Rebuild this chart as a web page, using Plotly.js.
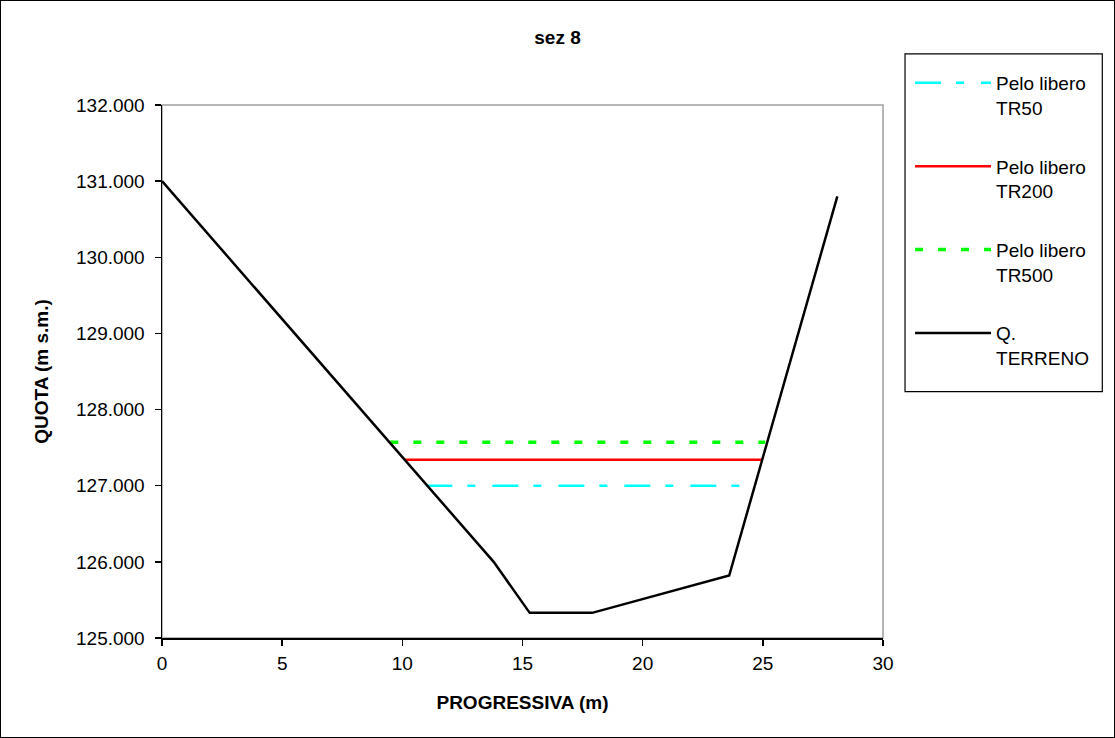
<!DOCTYPE html>
<html>
<head>
<meta charset="utf-8">
<script src="https://cdn.plot.ly/plotly-3.0.1.min.js"></script>
<style>
  html, body { margin: 0; padding: 0; background: #fff; }
  #chart { width: 1113px; height: 736px; border: 1px solid #000; }
</style>
</head>
<body>
<div id="chart"></div>
<script>
// Terrain profile (Q. TERRENO)
const terrenoX = [0, 13.8, 15.3, 17.9, 23.6, 28.1];
const terrenoY = [131.0, 126.0, 125.33, 125.33, 125.82, 130.8];

// Water levels
const tr50X = [11.0, 24.6];
const tr50Y = [127.0, 127.0];
const tr200X = [10.1, 25.0];
const tr200Y = [127.34, 127.34];
const tr500X = [9.5, 25.1];
const tr500Y = [127.57, 127.57];

const names = ["Pelo libero<br>TR50", "Pelo libero<br>TR200", "Pelo libero<br>TR500", "Q.<br>TERRENO"];

const FONT = "Liberation Sans, Arial, sans-serif";
const FS = 19;

const traces = [
  { x: tr50X, y: tr50Y, name: names[0], mode: "lines", legendgroup: "a",
    line: { color: "#00FFFF", width: 2.5, dash: "26px,15px,8px,17px" } },
  { x: tr200X, y: tr200Y, name: names[1], mode: "lines", legendgroup: "b",
    line: { color: "#FF0000", width: 2.5 } },
  { x: tr500X, y: tr500Y, name: names[2], mode: "lines", legendgroup: "c",
    line: { color: "#00FF00", width: 3.5, dash: "8px,15px" } },
  { x: terrenoX, y: terrenoY, name: names[3], mode: "lines", legendgroup: "d",
    line: { color: "#000000", width: 2.5 } }
];

const layout = {
  width: 1113, height: 736,
  margin: { l: 161, r: 231, t: 104, b: 99 },
  paper_bgcolor: "#fff", plot_bgcolor: "#fff",
  font: { family: FONT, size: FS, color: "#000" },
  title: { text: "<b>sez 8</b>", x: 0.5, xref: "container", xanchor: "center",
           y: 1 - 36 / 738, yref: "container", yanchor: "middle",
           font: { family: FONT, size: FS, color: "#000" } },
  xaxis: {
    range: [0, 30], dtick: 5, tick0: 0,
    showgrid: false, zeroline: false,
    showline: true, linecolor: "#000", linewidth: 1.5,
    ticks: "outside", ticklen: 6, tickcolor: "#000", tickwidth: 1.5,
    ticklabelstandoff: 2,
    tickfont: { family: FONT, size: FS, color: "#000" },
    title: { text: "<b>PROGRESSIVA (m)</b>", standoff: 22,
             font: { family: FONT, size: FS, color: "#000" } }
  },
  yaxis: {
    range: [125, 132], dtick: 1, tick0: 125, tickformat: ".3f",
    showgrid: false, zeroline: false,
    showline: true, linecolor: "#000", linewidth: 1.5,
    ticks: "outside", ticklen: 6, tickcolor: "#000", tickwidth: 1.5,
    ticklabelstandoff: 6,
    tickfont: { family: FONT, size: FS, color: "#000" },
    title: { text: "<b>QUOTA (m s.m.)</b>", standoff: 22,
             font: { family: FONT, size: FS, color: "#000" } }
  },
  showlegend: true,
  legend: {
    x: (909 - 162) / 720, xanchor: "left",
    y: (637 - 64) / 532, yanchor: "top",
    bgcolor: "rgba(0,0,0,0)", borderwidth: 0,
    traceorder: "grouped", tracegroupgap: 31,
    valign: "top", itemwidth: 76,
    font: { family: FONT, size: FS, color: "#000" }
  },
  shapes: [
    { type: "rect", xref: "paper", yref: "paper", x0: 0, x1: 1, y0: 0, y1: 1,
      line: { color: "#A0A0A0", width: 1.5 }, layer: "below" },
    { type: "rect", xref: "paper", yref: "paper",
      x0: (904 - 162) / 720, x1: (1101 - 162) / 720,
      y0: (637 - 391) / 532, y1: (637 - 54) / 532,
      line: { color: "#000", width: 1.2 }, fillcolor: "rgba(0,0,0,0)" }
  ]
};

Plotly.newPlot("chart", traces, layout, { displayModeBar: false, staticPlot: true });
</script>
</body>
</html>
